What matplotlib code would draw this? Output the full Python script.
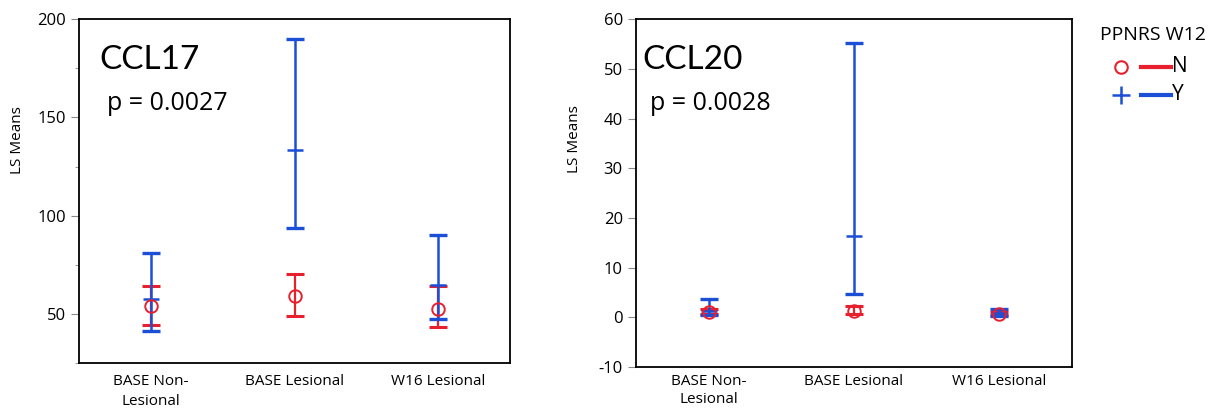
import numpy as np
import matplotlib.pyplot as plt
from matplotlib.lines import Line2D
from matplotlib.ticker import MultipleLocator

plt.rcParams['axes.unicode_minus'] = False

categories = ['BASE Non-\nLesional', 'BASE Lesional', 'W16 Lesional']

# CCL17 LS means and CI bounds
ccl17_n_mean = [53.9, 59.0, 52.7]
ccl17_n_lo = [44.6, 49.2, 43.4]
ccl17_n_hi = [64.4, 70.5, 64.1]
ccl17_y_mean = [57.6, 133.5, 64.9]
ccl17_y_lo = [41.2, 93.5, 47.2]
ccl17_y_hi = [81.0, 190.0, 90.1]

# CCL20 LS means and CI bounds
ccl20_n_mean = [1.2, 1.4, 0.6]
ccl20_n_lo = [0.8, 0.7, 0.5]
ccl20_n_hi = [1.8, 2.3, 1.2]
ccl20_y_mean = [1.3, 16.3, 0.9]
ccl20_y_lo = [0.4, 4.8, 0.3]
ccl20_y_hi = [3.8, 55.2, 1.8]

RED = '#E8202E'
BLUE = '#1A4FD6'
txt_font = ['Open Sans', 'DejaVu Sans']
big_font = ['Lato', 'DejaVu Sans']

W, H = 1217, 408
fig = plt.figure(figsize=(W / 100, H / 100), dpi=100)
ax1 = fig.add_axes([0.065, 0.110, 0.354, 0.843])
ax2 = fig.add_axes([0.5226, 0.100, 0.358, 0.853])


def draw(ax, nm, nlo, nhi, ym, ylo, yhi, pad=8, spacing=1.45):
    x = np.arange(len(categories))
    nm, nlo, nhi = map(np.array, (nm, nlo, nhi))
    ym, ylo, yhi = map(np.array, (ym, ylo, yhi))
    ax.errorbar(x, nm, yerr=[nm - nlo, nhi - nm], fmt='none', ecolor=RED,
                elinewidth=1.6, capsize=6.5, capthick=2.2, zorder=2)
    ax.errorbar(x, ym, yerr=[ym - ylo, yhi - ym], fmt='none', ecolor=BLUE,
                elinewidth=1.8, capsize=6.5, capthick=2.4, zorder=3)
    ax.plot(x, ym, ls='none', marker='_', ms=12, mew=1.8, color=BLUE, zorder=4)
    ax.plot(x, nm, ls='none', marker='o', ms=9, mfc='none', mec=RED, mew=1.4, zorder=5)
    ax.set_xlim(-0.5, 2.5)
    ax.set_xticks(x)
    ax.set_xticklabels(categories, fontsize=11, family=txt_font, linespacing=spacing)
    ax.tick_params(axis='x', length=0, pad=pad)
    ax.tick_params(axis='y', labelsize=12, color='#888888', length=6, width=0.8)
    for lab in ax.get_yticklabels():
        lab.set_family(txt_font)
    for s in ax.spines.values():
        s.set_linewidth(1.3)
    ax.set_ylabel('LS Means', fontsize=11, family=txt_font)


draw(ax1, ccl17_n_mean, ccl17_n_lo, ccl17_n_hi, ccl17_y_mean, ccl17_y_lo, ccl17_y_hi)
ax1.set_ylim(25, 200)
ax1.set_yticks([50, 100, 150, 200])
ax1.yaxis.set_minor_locator(MultipleLocator(25))
ax1.tick_params(axis='y', which='minor', length=3, color='#888888')
ax1.yaxis.set_label_coords(-0.125, 0.648)

draw(ax2, ccl20_n_mean, ccl20_n_lo, ccl20_n_hi, ccl20_y_mean, ccl20_y_lo, ccl20_y_hi,
     pad=5, spacing=1.3)
ax2.set_ylim(-10, 60)
ax2.yaxis.set_major_locator(MultipleLocator(10))
ax2.yaxis.set_label_coords(-0.125, 0.655)

# panel titles and p values (baseline positions in pixels)
fig.text(99 / W, 1 - 69 / H, 'CCL17', fontsize=24, family=big_font, va='baseline')
fig.text(107 / W, 1 - 110 / H, 'p = 0.0027', fontsize=18, family=txt_font, va='baseline')
fig.text(642 / W, 1 - 69 / H, 'CCL20', fontsize=24, family=big_font, va='baseline')
fig.text(650 / W, 1 - 110 / H, 'p = 0.0028', fontsize=18, family=txt_font, va='baseline')

# legend
fig.text(1100 / W, 1 - 40 / H, 'PPNRS W12', fontsize=14, family=txt_font, va='baseline')
leg_labels = ['N', 'Y']
leg_colors = [RED, BLUE]
for i, lab in enumerate(leg_labels):
    yy = 1 - (67 + i * 28) / H
    if i == 0:
        mk = Line2D([1121 / W], [yy], ls='none', marker='o', ms=9, mfc='none',
                    mec=leg_colors[i], mew=1.5, transform=fig.transFigure)
    else:
        mk = Line2D([1121 / W], [yy], ls='none', marker='+', ms=13, mew=1.8,
                    color=leg_colors[i], transform=fig.transFigure)
    fig.add_artist(mk)
    fig.add_artist(Line2D([1141 / W, 1171 / W], [yy, yy], color=leg_colors[i], lw=3,
                          transform=fig.transFigure))
    fig.text(1172 / W, yy, lab, fontsize=15, family=txt_font, va='center')

fig.savefig('out.png', dpi=100)
